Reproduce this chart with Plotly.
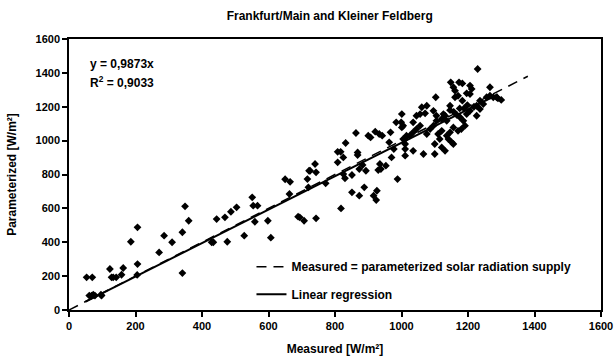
import plotly.graph_objects as go

measured = [53, 70, 61, 68, 73, 78, 98, 96, 123, 128, 133, 142, 158, 163, 186, 206, 206, 205, 271, 286, 310, 341, 349, 360, 341,
            429, 434, 444, 469, 476, 487, 504, 527, 551, 554, 567, 598, 607, 559,
            650, 665, 663, 689, 707, 694, 722, 717, 720, 743,
            818, 851, 873, 888, 916, 924, 926,
            740, 725, 743, 772, 808, 808, 817, 825, 832, 825, 830, 851, 863, 868, 868, 873, 883, 893, 900, 907, 921, 933, 942,
            935, 938, 930, 953, 963, 967, 970, 977, 988, 984, 999, 1001, 1001, 1011, 1011, 1011,
            1229, 1148, 1173, 1183, 1156, 1161, 1206, 1211, 1196, 1206, 1266, 1103, 1161, 1170, 1183, 1146, 1061, 1076, 1096,
            1105, 1126, 1045, 1056, 1071, 1005, 1146, 1157, 1175, 1236, 1246, 1256, 1266, 1276, 1286, 1226, 1236, 1226, 1206,
            1196, 1176, 1186, 1191, 1180, 1170, 1156, 1146, 1136, 1121, 1110, 1115, 1100, 1141, 1151, 1156, 1121, 1131, 1100,
            1035, 1025, 1015, 1005, 1011, 1035, 1066, 1096, 1086, 1076, 1105, 1121, 1056, 1045, 1035, 1136, 1131, 1290, 1300,
            1218, 1198, 1167, 1188]
parameterized = [193, 193, 85, 85, 90, 85, 85, 90, 242, 193, 193, 193, 208, 248, 403, 488, 271, 207, 340, 439, 400, 459, 612, 527, 218,
                 400, 400, 537, 547, 403, 580, 606, 439, 665, 616, 616, 527, 427, 521,
                 772, 757, 685, 551, 527, 547, 822, 773, 724, 541,
                 600, 695, 675, 724, 675, 649, 704,
                 862, 822, 813, 748, 872, 934, 934, 901, 986, 803, 778, 797, 1045, 930, 915, 832, 856, 822, 1029, 1019, 1053, 1039, 1029,
                 862, 832, 826, 852, 990, 1049, 901, 950, 773, 1108, 1108, 1157, 1078, 1009, 950, 911,
                 1423, 1344, 1344, 1338, 1315, 1295, 1325, 1305, 1279, 1275, 1315, 1256, 1256, 1265, 1236, 1206, 1197, 1206, 1176,
                 1147, 1157, 1147, 1157, 1161, 1088, 1180, 1170, 1190, 1236, 1216, 1256, 1265, 1256, 1256, 1206, 1186, 1147, 1176,
                 1157, 1138, 1117, 1088, 1068, 1058, 1078, 1049, 1029, 1058, 1039, 1009, 980, 1009, 990, 980, 960, 940, 921,
                 1049, 1029, 1029, 1009, 980, 940, 921, 1088, 1068, 1039, 1117, 1128, 1088, 1068, 1108, 1117, 1147, 1250, 1240,
                 1200, 1210, 1150, 1190]

identity_x = [0, 1380]
identity_y = [0, 1380]
slope = 0.9873
reg_x = [50, 1290]
reg_y = [slope * v for v in reg_x]

xticks = [0, 200, 400, 600, 800, 1000, 1200, 1400, 1600]
yticks = [0, 200, 400, 600, 800, 1000, 1200, 1400, 1600]

FONT = "Liberation Sans, Arial, sans-serif"
TXT = dict(family=FONT, size=12, color="black", weight="bold")

fig = go.Figure()
fig.add_trace(go.Scatter(x=measured, y=parameterized, mode="markers",
                         marker=dict(symbol="diamond", size=6, color="black"),
                         showlegend=False))
fig.add_trace(go.Scatter(x=identity_x, y=identity_y, mode="lines",
                         line=dict(color="black", width=1.5, dash="10px,7px"),
                         name="Measured = parameterized solar radiation supply", legend="legend"))
fig.add_trace(go.Scatter(x=reg_x, y=reg_y, mode="lines",
                         line=dict(color="black", width=2),
                         name="Linear regression", legend="legend2"))

axis_common = dict(showgrid=False, zeroline=False, showline=True, linecolor="black", linewidth=1.5,
                   mirror=True, ticks="outside", ticklen=5, tickcolor="black", tickwidth=1.5, automargin=False,
                   tickfont=dict(family=FONT, size=11, color="black", weight="bold"))

fig.update_layout(
    width=614, height=362,
    margin=dict(l=69, r=13, t=39, b=52),
    paper_bgcolor="white", plot_bgcolor="white",
    title=dict(text="Frankfurt/Main and Kleiner Feldberg", x=0.537, xanchor="center", y=0.955, yanchor="middle",
               font=TXT),
    xaxis=dict(range=[0, 1600], tickvals=xticks, ticktext=[str(v) for v in xticks],
               title=dict(text="Measured [W/m²]", standoff=14, font=TXT),
               **axis_common),
    yaxis=dict(range=[0, 1600], tickvals=yticks, ticktext=[str(v) for v in yticks],
               title=dict(text="Parameterized [W/m²]", standoff=16, font=TXT),
               **axis_common),
    legend=dict(x=0.343, y=0.16, xanchor="left", yanchor="middle", bgcolor="rgba(0,0,0,0)", font=TXT),
    legend2=dict(x=0.343, y=0.058, xanchor="left", yanchor="middle", bgcolor="rgba(0,0,0,0)", font=TXT),
    annotations=[
        dict(text="y = 0,9873x", x=0.036, y=0.908, xref="paper", yref="paper", xanchor="left", yanchor="middle",
             showarrow=False, font=TXT),
        dict(text="R<sup>2</sup> = 0,9033", x=0.036, y=0.841, xref="paper", yref="paper", xanchor="left", yanchor="middle",
             showarrow=False, font=TXT),
    ],
)

fig.write_html("out.html")
